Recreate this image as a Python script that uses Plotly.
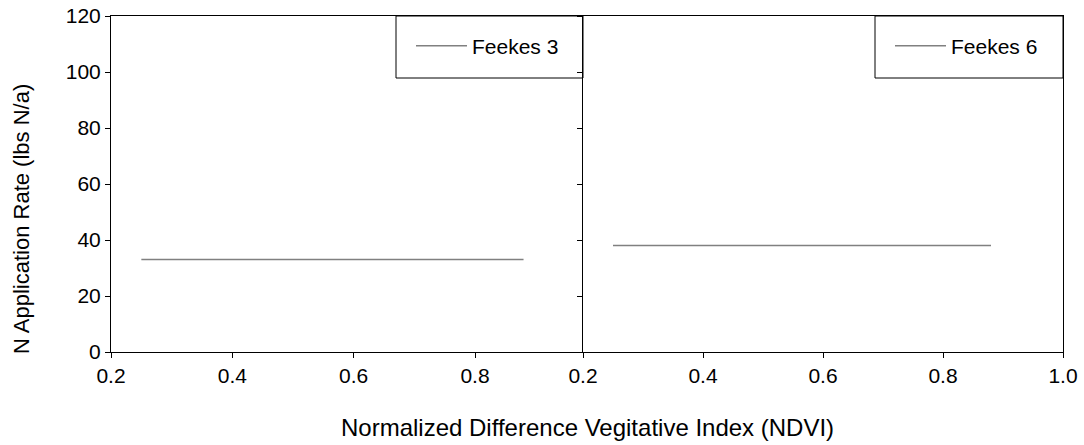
import plotly.graph_objects as go

# Data
ndvi_feekes3 = [0.25, 0.88]
rate_feekes3 = [33, 33]
ndvi_feekes6 = [0.25, 0.88]
rate_feekes6 = [38, 38]
x_ticks = [0.2, 0.4, 0.6, 0.8, 1.0]
y_ticks = [0, 20, 40, 60, 80, 100, 120]
series_names = ["Feekes 3", "Feekes 6"]

W, H = 1084, 445
L, R, T, B = 111, 21, 16, 93
pw = W - L - R
ph = H - T - B

def px_x(p):
    return (p - L) / pw

def px_y(p):
    return 1 - (p - T) / ph

split = px_x(583)
font = dict(family="Liberation Sans, Arial, sans-serif", size=21, color="black")
line_style = dict(color="#808080", width=1.5)

fig = go.Figure()
fig.add_trace(go.Scatter(x=ndvi_feekes3, y=rate_feekes3, mode="lines", name=series_names[0],
                         line=line_style, xaxis="x", yaxis="y", legend="legend"))
fig.add_trace(go.Scatter(x=ndvi_feekes6, y=rate_feekes6, mode="lines", name=series_names[1],
                         line=line_style, xaxis="x2", yaxis="y2", legend="legend2"))

ax_common = dict(showline=True, linecolor="black", linewidth=1,
                 ticks="outside", ticklen=5, tickcolor="black", tickwidth=1,
                 showgrid=False, zeroline=False, tickfont=font, automargin=False)

fig.update_layout(
    template="none",
    width=W, height=H,
    margin=dict(l=L, r=R, t=T, b=B, pad=0, autoexpand=False),
    paper_bgcolor="white", plot_bgcolor="white",
    font=font,
    xaxis=dict(domain=[0, split], range=[0.2, 0.978], tickvals=x_ticks, tickformat=".1f",
               anchor="y", mirror=True, **ax_common),
    yaxis=dict(domain=[0, 1], range=[0, 120], tickvals=y_ticks, anchor="x", mirror=False,
               **ax_common),
    xaxis2=dict(domain=[split, 1], range=[0.2, 1.0], tickvals=x_ticks, tickformat=".1f",
                anchor="y2", mirror=True, **ax_common),
    yaxis2=dict(domain=[0, 1], range=[0, 120], tickvals=y_ticks, anchor="x2", mirror=True,
                showticklabels=False, **ax_common),
    legend=dict(x=px_x(411), y=px_y(46), xanchor="left", yanchor="middle",
                bgcolor="rgba(0,0,0,0)", borderwidth=0, font=font, itemwidth=51),
    legend2=dict(x=px_x(890), y=px_y(46), xanchor="left", yanchor="middle",
                 bgcolor="rgba(0,0,0,0)", borderwidth=0, font=font, itemwidth=51),
    showlegend=True,
    shapes=[
        dict(type="rect", xref="paper", yref="paper", x0=px_x(396), x1=split,
             y0=px_y(78), y1=1, line=dict(color="black", width=1)),
        dict(type="rect", xref="paper", yref="paper", x0=px_x(875), x1=1,
             y0=px_y(78), y1=1, line=dict(color="black", width=1)),
    ],
    annotations=[
        dict(text="Normalized Difference Vegitative Index (NDVI)", xref="paper", yref="paper",
             x=px_x(587), y=px_y(427), xanchor="center", yanchor="middle", showarrow=False,
             font=dict(family=font["family"], size=24, color="black")),
        dict(text="N Application Rate (lbs N/a)", xref="paper", yref="paper",
             x=px_x(21), y=px_y(219), xanchor="center", yanchor="middle", showarrow=False,
             textangle=-90, font=dict(family=font["family"], size=22, color="black")),
    ],
)

fig.write_html("out.html", config={"displayModeBar": False},
               post_script="document.body.style.margin='0';")
